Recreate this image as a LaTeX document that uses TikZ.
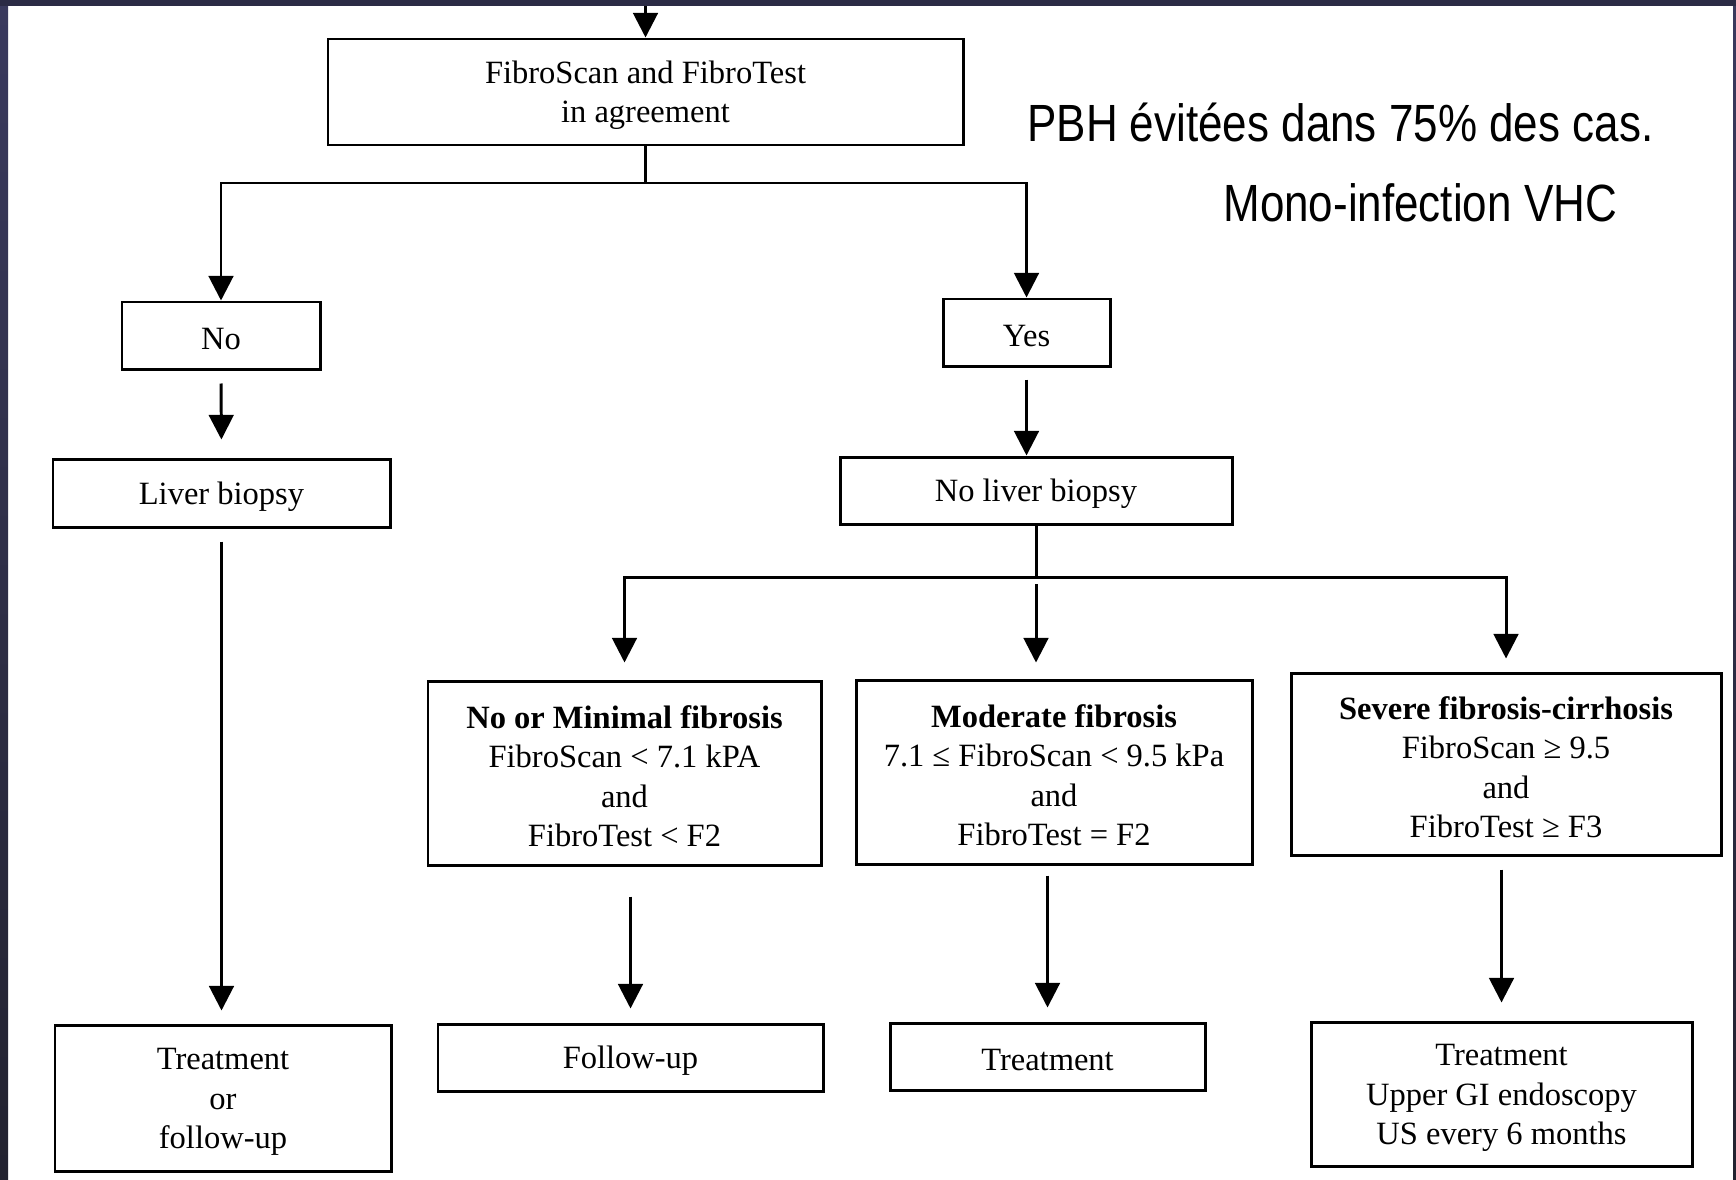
\documentclass[tikz,border=0pt]{standalone}
\usepackage{fontspec}
\setmainfont{Liberation Serif}
\newfontfamily\notefont[FakeStretch=0.84]{Liberation Sans}
\usepackage{tikz}
\usepackage{xcolor}
\usetikzlibrary{arrows.meta}

\definecolor{frametop}{HTML}{2B2B45}
\definecolor{edgetop}{HTML}{3A3A5E}
\definecolor{edgemid}{HTML}{65659A}
\definecolor{edgebot}{HTML}{22222F}

\begin{document}
\begin{tikzpicture}[x=0.2mm, y=-0.2mm,
    box/.style={draw, line width=1.7pt, align=center, inner sep=0pt, text width=#1, minimum width=#1,
        font=\fontsize{18.5}{22.4}\selectfont,
        execute at begin node={\spaceskip=\fontdimen2\font\relax\rule{0pt}{16.5pt}}},
    link/.style={line width=1.7pt},
    arr/.style={link, -{Triangle[length=14pt, width=14pt]}},
    note/.style={anchor=base west, inner sep=0pt, font=\notefont\fontsize{29.8}{34}\selectfont}]
    \useasboundingbox (0,0) rectangle (1736,1179);

    % Slide frame
    \fill[white] (0,0) rectangle (1736,1179);
    \shade[top color=edgetop, middle color=edgemid, bottom color=edgebot] (0,0) rectangle (8,1179);
    \shade[top color=edgetop, middle color=edgemid, bottom color=edgebot] (1733,0) rectangle (1736,1179);
    \fill[frametop] (0,0) rectangle (1736,6);

    % Notes
    \node[note] (avoided) at (1027,141) {PBH évitées dans 75\% des cas.};
    \node[note] (mono) at (1223,221) {Mono-infection VHC};

    % Question
    \coordinate (entry) at (645.5,6);
    \node[box=127mm, minimum height=21.2mm] (agree) at (645.5,92) {FibroScan and FibroTest\\in agreement};
    \draw[arr] (entry) -- (agree.north);

    % No / Yes
    \node[box=39.6mm, minimum height=13.4mm] (no) at (221,335.5) {No};
    \node[box=33.4mm, minimum height=13.4mm] (yes) at (1026.5,332.5) {Yes};
    \coordinate (split1) at (645.5,183);
    \draw[link] (agree.south) -- (split1);
    \draw[arr] (split1) -| (no.north);
    \draw[arr] (split1) -| (yes.north);

    % Biopsy or not
    \node[box=67.4mm, minimum height=13.6mm] (biopsy) at (221.5,493) {Liver biopsy};
    \node[box=78.4mm, minimum height=13.4mm] (nobiopsy) at (1036,490.5) {No liver biopsy};
    \draw[arr, shorten <=2.6mm, shorten >=3.6mm] (no.south) -- (biopsy.north);
    \draw[arr, shorten <=2.4mm] (yes.south) -- (yes.south |- nobiopsy.north);

    % Fibrosis stages
    \node[box=78.6mm, minimum height=36.8mm] (minimal) at (624.5,773)
        {\textbf{No or Minimal fibrosis}\\FibroScan < 7.1 kPA\\and\\FibroTest < F2};
    \node[box=79.2mm, minimum height=36.8mm] (moderate) at (1054,772)
        {\textbf{Moderate fibrosis}\\7.1 ≤ FibroScan < 9.5 kPa\\and\\FibroTest = F2};
    \node[box=86mm, minimum height=36.4mm] (severe) at (1506,764)
        {\textbf{Severe fibrosis-cirrhosis}\\FibroScan ≥ 9.5\\and\\FibroTest ≥ F3};
    \coordinate (split2) at (1036,577);
    \draw[link] (nobiopsy.south) -- (split2);
    \draw[arr, shorten >=3.4mm] (split2) -| (minimal.north);
    \draw[arr, shorten <=1.4mm, shorten >=3.2mm] (split2) -- (split2 |- moderate.north);
    \draw[arr, shorten >=2.6mm] (split2) -| (severe.north);

    % Outcomes
    \node[box=67.2mm, minimum height=29.2mm] (treatfollow) at (223,1098) {Treatment\\or\\follow-up};
    \node[box=77mm, minimum height=13.4mm] (followup) at (630.5,1057.5) {Follow-up};
    \node[box=63mm, minimum height=13.4mm] (treat) at (1047.5,1056.5) {Treatment};
    \node[box=76.2mm, minimum height=28.8mm] (treatgi) at (1501.5,1094)
        {Treatment\\Upper GI endoscopy\\US every 6 months};
    \draw[arr, shorten <=2.6mm, shorten >=2.6mm] (biopsy.south) -- (biopsy.south |- treatfollow.north);
    \draw[arr, shorten <=6mm, shorten >=2.8mm] (followup.north |- minimal.south) -- (followup.north);
    \draw[arr, shorten <=2mm, shorten >=2.8mm] (treat.north |- moderate.south) -- (treat.north);
    \draw[arr, shorten <=2.6mm, shorten >=3.6mm] (treatgi.north |- severe.south) -- (treatgi.north);
\end{tikzpicture}
\end{document}
